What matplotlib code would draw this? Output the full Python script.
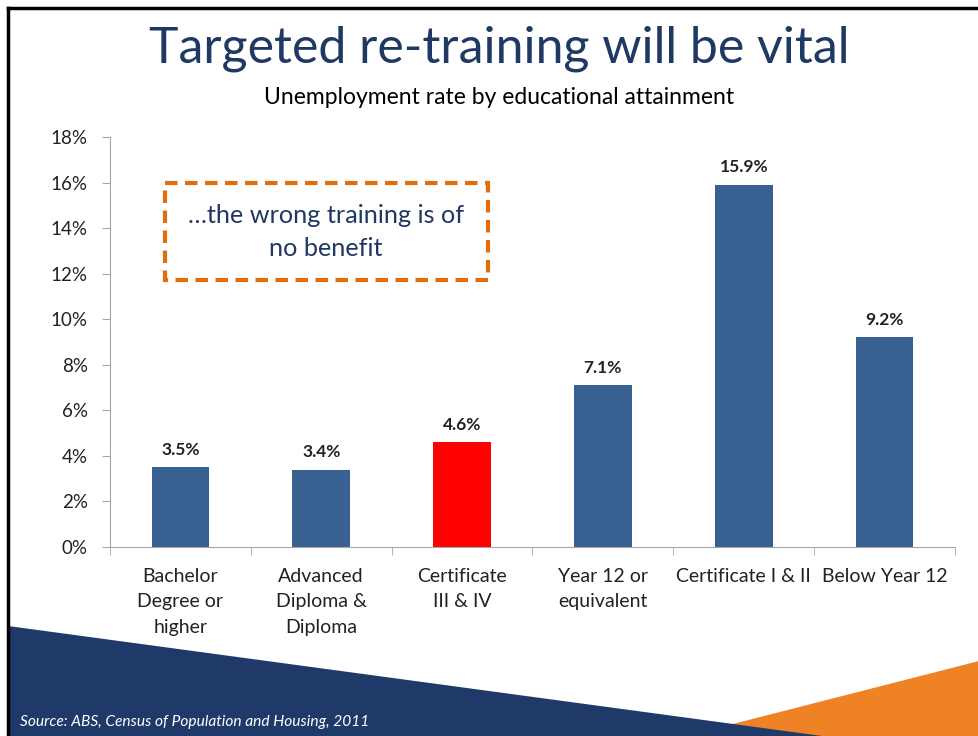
import numpy as np
import matplotlib.pyplot as plt
from matplotlib.patches import Polygon, Rectangle
from matplotlib.ticker import FuncFormatter

plt.rcParams['font.family'] = ['Lato', 'DejaVu Sans']

# data
categories = ['Bachelor\nDegree or\nhigher', 'Advanced\nDiploma &\nDiploma', 'Certificate\nIII & IV',
              'Year 12 or\nequivalent', 'Certificate I & II', 'Below Year 12']
rates = [3.5, 3.4, 4.6, 7.1, 15.9, 9.2]
labels = ['3.5%', '3.4%', '4.6%', '7.1%', '15.9%', '9.2%']
highlight = 2

W, H = 979, 736
fig = plt.figure(figsize=(W / 100, H / 100), dpi=100)

# slide background in pixel coords
bg = fig.add_axes([0, 0, 1, 1], zorder=0)
bg.set_xlim(0, W)
bg.set_ylim(H, 0)
bg.axis('off')
bg.add_patch(Polygon([(686, 736), (979, 661), (979, 736)], closed=True, color='#F08226', lw=0))
bg.add_patch(Polygon([(8, 626), (822, 736), (8, 736)], closed=True, color='#1F3A68', lw=0))
bg.plot([8, 8], [8, 736], color='black', lw=2.5)
bg.plot([8, 979], [8, 8], color='black', lw=2.5)

navy = '#1F3864'
bg.text(499, 49, 'Targeted re-training will be vital', ha='center', va='center',
        fontsize=36, color=navy)
bg.text(499, 97, 'Unemployment rate by educational attainment', ha='center', va='center',
        fontsize=16.5, color='black')
bg.text(20, 722, 'Source: ABS, Census of Population and Housing, 2011', ha='left', va='center',
        fontsize=11.2, color='white', style='italic')

# dashed callout box
bg.add_patch(Rectangle((165, 183), 323, 97, fill=False, ec='#E46C0A', lw=3,
                       ls=(0, (3, 1.8))))
bg.text(326, 232, '…the wrong training is of\nno benefit', ha='center', va='center',
        fontsize=18.2, color=navy, linespacing=1.5)

# chart
ax = fig.add_axes([110 / W, (H - 547) / H, (955 - 110) / W, (547 - 137) / H], zorder=1)
ax.patch.set_alpha(0)
x = np.arange(len(categories))
colors = ['#FF0000' if i == highlight else '#386192' for i in range(len(rates))]
bars = ax.bar(x, rates, width=0.41, color=colors)
for b, lab in zip(bars, labels):
    ax.annotate(lab, (b.get_x() + b.get_width() / 2, b.get_height()), xytext=(0, 7),
                textcoords='offset points', ha='center', va='bottom', fontsize=12.5,
                fontweight='bold', color='#222222')

ax.set_xlim(-0.5, len(categories) - 0.5)
ax.set_ylim(0, 18)
ax.set_yticks(np.arange(0, 19, 2))
ax.yaxis.set_major_formatter(FuncFormatter(lambda v, p: f'{v:.0f}%'))
ax.set_xticks(x)
ax.set_xticklabels(categories, fontsize=14, linespacing=1.6, color='#222222')
ax.set_xticks(np.arange(-0.5, len(categories)), minor=True)
ax.tick_params(axis='x', which='major', length=0, pad=15)
ax.tick_params(axis='x', which='minor', length=6, color='#A6A6A6')
ax.tick_params(axis='y', length=6, color='#A6A6A6', labelsize=13.5, labelcolor='#222222', pad=10)
for s in ['top', 'right']:
    ax.spines[s].set_visible(False)
for s in ['left', 'bottom']:
    ax.spines[s].set_color('#A6A6A6')

fig.savefig('out.png', dpi=100)
